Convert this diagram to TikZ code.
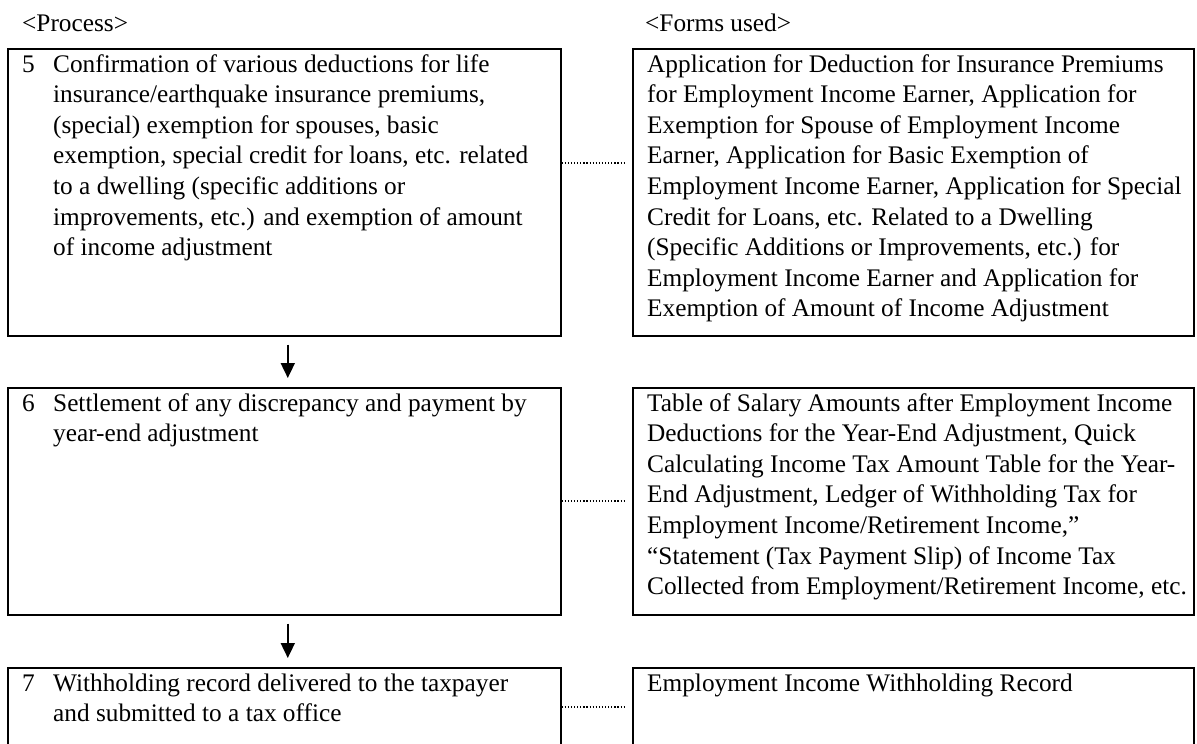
\documentclass[tikz,border=0pt]{standalone}
\usepackage{fontspec}
\setmainfont{Liberation Serif}
\usetikzlibrary{arrows.meta}
\tikzset{
  box/.style={draw=black, line width=1.6pt, inner sep=0pt, anchor=north west},
  txt/.style={inner sep=0pt, anchor=base west, font=\fontsize{25.3}{30.6}\selectfont},
  hdr/.style={inner sep=0pt, anchor=base west, font=\fontsize{25.3}{30.6}\selectfont},
  flow/.style={line width=1.8pt, -{Triangle[width=14pt,length=15pt]}, shorten <=8pt, shorten >=9pt},
  dotline/.style={line width=1.3pt, dash pattern=on 1.2pt off 1.9pt, shorten >=6pt}
}
\begin{document}
\begin{tikzpicture}[x=1pt,y=-1pt]
\useasboundingbox (0,0) rectangle (1197,744);
% headers
\node[hdr] (hp) at (22,31) {<Process>};
\node[hdr] (hf) at (645,31) {<Forms used>};
% boxes
\node[box, minimum width=553pt, minimum height=287pt] (p5) at (7,48) {};
\node[box, minimum width=561pt, minimum height=287pt] (f5) at (632,48) {};
\node[box, minimum width=553pt, minimum height=227pt] (p6) at (7,387) {};
\node[box, minimum width=561pt, minimum height=227pt] (f6) at (632,387) {};
\node[box, minimum width=553pt, minimum height=100pt] (p7) at (7,667) {};
\node[box, minimum width=561pt, minimum height=100pt] (f7) at (632,667) {};
% texts
\node[txt] (t5) at (22,72) {\begin{tabular}[t]{@{}p{31pt}@{}l@{}}
5 & Confirmation of various deductions for life\\
 & insurance/earthquake insurance premiums,\\
 & (special) exemption for spouses, basic\\
 & exemption, special credit for loans, etc. related\\
 & to a dwelling (specific additions or\\
 & improvements, etc.) and exemption of amount\\
 & of income adjustment
\end{tabular}};
\node[txt] (u5) at (647,72) {\begin{tabular}[t]{@{}l@{}}
Application for Deduction for Insurance Premiums\\
for Employment Income Earner, Application for\\
Exemption for Spouse of Employment Income\\
Earner, Application for Basic Exemption of\\
Employment Income Earner, Application for Special\\
Credit for Loans, etc. Related to a Dwelling\\
(Specific Additions or Improvements, etc.) for\\
Employment Income Earner and Application for\\
Exemption of Amount of Income Adjustment
\end{tabular}};
\node[txt] (t6) at (22,411) {\begin{tabular}[t]{@{}p{31pt}@{}l@{}}
6 & Settlement of any discrepancy and payment by\\
 & year-end adjustment
\end{tabular}};
\node[txt] (u6) at (647,411) {\begin{tabular}[t]{@{}l@{}}
Table of Salary Amounts after Employment Income\\
Deductions for the Year-End Adjustment, Quick\\
Calculating Income Tax Amount Table for the Year-\\
End Adjustment, Ledger of Withholding Tax for\\
Employment Income/Retirement Income,”\\
“Statement (Tax Payment Slip) of Income Tax\\
Collected from Employment/Retirement Income, etc.
\end{tabular}};
\node[txt] (t7) at (22,691) {\begin{tabular}[t]{@{}p{31pt}@{}l@{}}
7 & Withholding record delivered to the taxpayer\\
 & and submitted to a tax office
\end{tabular}};
\node[txt] (u7) at (647,691) {Employment Income Withholding Record};
% flow arrows
\draw[flow] ([xshift=3.5pt]p5.south) -- ([xshift=3.5pt]p6.north);
\draw[flow] ([xshift=3.5pt]p6.south) -- ([xshift=3.5pt]p7.north);
% dotted connectors
\coordinate (d5) at (0,163);
\coordinate (d6) at (0,501);
\coordinate (d7) at (0,707);
\draw[dotline] (p5.east |- d5) -- (f5.west |- d5);
\draw[dotline] (p6.east |- d6) -- (f6.west |- d6);
\draw[dotline] (p7.east |- d7) -- (f7.west |- d7);
\end{tikzpicture}
\end{document}
